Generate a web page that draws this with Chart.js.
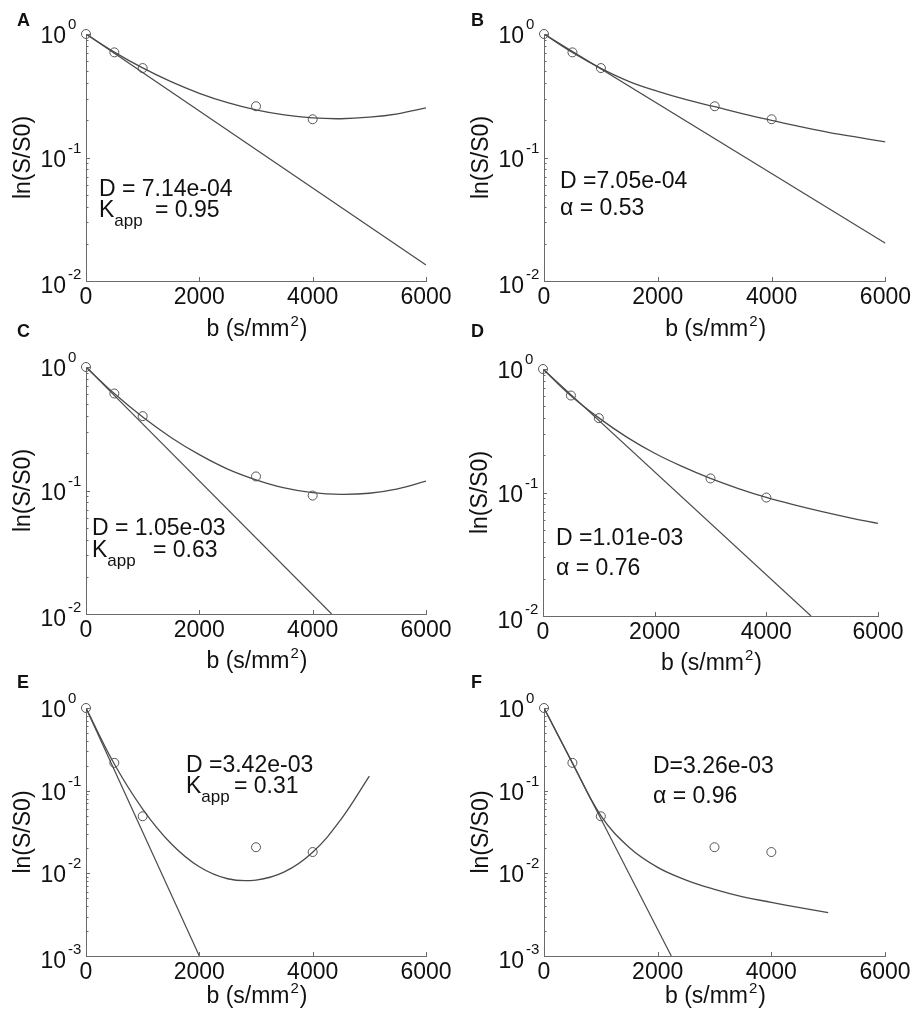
<!DOCTYPE html>
<html>
<head>
<meta charset="utf-8">
<script src="https://cdn.jsdelivr.net/npm/chart.js@4.4.1/dist/chart.umd.min.js"></script>
<style>
  body { margin: 0; background: #fff; }
  #wrap { position: relative; width: 914px; height: 1020px; overflow: hidden; }
  #wrap canvas { position: absolute; }
</style>
</head>
<body>
<div id="wrap"></div>
<script>
// measured b-values (s/mm^2) and normalised signal
const bMeasured = [0, 500, 1000, 3000, 4000];
const signalAB = [1, 0.71, 0.53, 0.26, 0.204];
const signalCD = [1, 0.61, 0.40, 0.13, 0.091];
const signalEF = [1, 0.217, 0.049, 0.0207, 0.0181];

const bFit6000 = [0, 500, 1000, 1500, 2000, 2500, 3000, 3500, 4000, 4500, 5000, 5500, 6000];
const bFit5000 = [0, 500, 1000, 1500, 2000, 2500, 3000, 3500, 4000, 4500, 5000];

// kurtosis / stretched-exponential fits
const kurtosisA = [1, 0.714, 0.531, 0.411, 0.331, 0.278, 0.243, 0.221, 0.209, 0.206, 0.212, 0.226, 0.252];
const stretchedB = [1, 0.71, 0.527, 0.412, 0.343, 0.294, 0.258, 0.226, 0.20, 0.178, 0.160, 0.146, 0.134];
const kurtosisC = [1, 0.609, 0.393, 0.269, 0.195, 0.149, 0.122, 0.105, 0.096, 0.093, 0.095, 0.103, 0.119];
const stretchedD = [1, 0.608, 0.402, 0.281, 0.208, 0.162, 0.130, 0.1076, 0.0912, 0.0794, 0.070, 0.0624, 0.0562];
const kurtosisE = [1, 0.21, 0.06, 0.023, 0.012, 0.0086, 0.0083, 0.0104, 0.018, 0.045, 0.15];
const stretchedF = [1, 0.218, 0.05, 0.0205, 0.0118, 0.0083, 0.0064, 0.0052, 0.00446, 0.00384, 0.00334];

// monoexponential lines (start / end)
const monoA_b = [0, 6000], monoA = [1, 0.0135];
const monoB_b = [0, 6000], monoB = [1, 0.0202];
const monoC_b = [0, 4335], monoC = [1, 0.01];
const monoD_b = [0, 4800], monoD = [1, 0.01];
const monoE_b = [0, 2000], monoE = [1, 0.001];
const monoF_b = [0, 2240], monoF = [1, 0.001];

const xTicks = [0, 2000, 4000, 6000];

const FONT = "'Liberation Sans', Arial, sans-serif";
const lineCol = '#4a4a4a';
const axisCol = '#6a6a6a';
const textCol = '#111';

const panels = [
  { letter: 'A', pos: [0, 0], size: [457, 350], area: [86, 426, 34, 281], letterAt: [17, 26], yMinExp: -2, titleDy: 55,
    b: bMeasured, s: signalAB, fb: bFit6000, f: kurtosisA, mb: monoA_b, m: monoA,
    d: 'D = 7.14e-04', p2: '= 0.95', kind: 'K', at: [13, 162, 183], eqOff: 56 },
  { letter: 'B', pos: [457, 0], size: [457, 350], area: [87, 429, 34, 281], letterAt: [14, 26], yMinExp: -2, titleDy: 55,
    b: bMeasured, s: signalAB, fb: bFit6000, f: stretchedB, mb: monoB_b, m: monoB,
    d: 'D =7.05e-04', p2: '\u03b1 = 0.53', kind: 'a', at: [16, 154, 181] },
  { letter: 'C', pos: [0, 320], size: [457, 360], area: [86, 426, 47, 294], letterAt: [17, 17], yMinExp: -2, titleDy: 54,
    b: bMeasured, s: signalCD, fb: bFit6000, f: kurtosisC, mb: monoC_b, m: monoC,
    d: 'D = 1.05e-03', p2: '= 0.63', kind: 'K', at: [6, 168, 190], eqOff: 61 },
  { letter: 'D', pos: [457, 320], size: [457, 360], area: [86, 421, 49, 296], letterAt: [14, 17], yMinExp: -2, titleDy: 54,
    b: bMeasured, s: signalCD, fb: bFit6000, f: stretchedD, mb: monoD_b, m: monoD,
    d: 'D =1.01e-03', p2: '\u03b1 = 0.76', kind: 'a', at: [13, 176, 206] },
  { letter: 'E', pos: [0, 660], size: [457, 360], area: [86, 426, 48, 296], letterAt: [17, 28], yMinExp: -3, titleDy: 47,
    b: bMeasured, s: signalEF, fb: bFit5000, f: kurtosisE, mb: monoE_b, m: monoE,
    d: 'D =3.42e-03', p2: '= 0.31', kind: 'K', at: [100, 64, 85], eqOff: 48 },
  { letter: 'F', pos: [457, 660], size: [457, 360], area: [87, 428, 48, 296], letterAt: [14, 28], yMinExp: -3, titleDy: 47,
    b: bMeasured, s: signalEF, fb: bFit5000, f: stretchedF, mb: monoF_b, m: monoF,
    d: 'D=3.26e-03', p2: '\u03b1 = 0.96', kind: 'a', at: [109, 65, 95] }
];

function decor(p) {
  return {
    id: 'decor' + p.letter,
    afterDraw(chart) {
      const ctx = chart.ctx;
      const { left, right, top, bottom } = chart.chartArea;
      const xs = chart.scales.x, ys = chart.scales.y;
      ctx.save();
      ctx.strokeStyle = axisCol;
      ctx.lineWidth = 1;
      // inner tick marks on log axis
      for (let e = p.yMinExp; e <= 0; e++) {
        for (let k = 1; k <= 9; k++) {
          if (e === 0 && k > 1) break;
          const y = Math.round(ys.getPixelForValue(k * Math.pow(10, e))) + 0.5;
          ctx.beginPath();
          ctx.moveTo(left, y);
          ctx.lineTo(left + (k === 1 ? 4 : 2.5), y);
          ctx.stroke();
        }
      }
      xTicks.forEach(v => {
        const x = Math.round(xs.getPixelForValue(v)) + 0.5;
        ctx.beginPath();
        ctx.moveTo(x, bottom);
        ctx.lineTo(x, bottom - 4);
        ctx.stroke();
      });

      ctx.fillStyle = textCol;
      ctx.textBaseline = 'alphabetic';
      // y tick labels 10^n
      for (let e = p.yMinExp; e <= 0; e++) {
        const y = ys.getPixelForValue(Math.pow(10, e));
        const dy = e === p.yMinExp ? 12 : 9;
        ctx.font = '23px ' + FONT;
        ctx.textAlign = 'right';
        ctx.fillText('10', left - 20, y + dy);
        ctx.font = '15px ' + FONT;
        ctx.textAlign = 'left';
        ctx.fillText(String(e), left - 18, y + dy - 14);
      }

      // y title
      ctx.save();
      ctx.translate(left - 62, (top + bottom) / 2);
      ctx.rotate(-Math.PI / 2);
      ctx.font = '23px ' + FONT;
      ctx.textAlign = 'center';
      ctx.textBaseline = 'middle';
      ctx.fillText('ln(S/S0)', 0, 0);
      ctx.restore();

      // x title with superscript
      ctx.textAlign = 'left';
      ctx.font = '23px ' + FONT;
      const t1 = 'b (s/mm', t3 = ')';
      const w1 = ctx.measureText(t1).width, w3 = ctx.measureText(t3).width;
      ctx.font = '15px ' + FONT;
      const w2 = ctx.measureText('2').width;
      const xx = (left + right) / 2 - (w1 + w2 + w3) / 2;
      const by = bottom + p.titleDy;
      ctx.font = '23px ' + FONT;
      ctx.fillText(t1, xx, by);
      ctx.font = '15px ' + FONT;
      ctx.fillText('2', xx + w1 + 1, by - 10);
      ctx.font = '23px ' + FONT;
      ctx.fillText(t3, xx + w1 + w2 + 2, by);

      // fit parameters
      const ax = left + p.at[0];
      ctx.fillText(p.d, ax, top + p.at[1]);
      if (p.kind === 'K') {
        const y2 = top + p.at[2];
        ctx.fillText('K', ax, y2);
        const wk = ctx.measureText('K').width;
        ctx.font = '17px ' + FONT;
        ctx.fillText('app', ax + wk, y2 + 9);
        ctx.font = '23px ' + FONT;
        ctx.fillText(p.p2, ax + p.eqOff, y2);
      } else {
        ctx.fillText(p.p2, ax, top + p.at[2]);
      }

      // panel letter
      ctx.font = 'bold 18px ' + FONT;
      ctx.fillText(p.letter, p.letterAt[0], p.letterAt[1]);
      ctx.restore();
    }
  };
}

const wrap = document.getElementById('wrap');
panels.forEach(p => {
  const [W, H] = p.size;
  const cv = document.createElement('canvas');
  cv.width = W;
  cv.height = H;
  cv.style.left = p.pos[0] + 'px';
  cv.style.top = p.pos[1] + 'px';
  cv.style.width = W + 'px';
  cv.style.height = H + 'px';
  wrap.appendChild(cv);

  const pts = (xs, ys) => xs.map((x, i) => ({ x: x, y: ys[i] }));

  new Chart(cv, {
    type: 'line',
    data: {
      datasets: [
        { data: pts(p.mb, p.m), borderColor: lineCol, borderWidth: 1.2, pointRadius: 0, fill: false },
        { data: pts(p.fb, p.f), borderColor: lineCol, borderWidth: 1.3, pointRadius: 0, fill: false,
          tension: 0.4 },
        { data: pts(p.b, p.s), showLine: false, pointRadius: 4.5, pointBorderWidth: 1,
          pointBorderColor: '#555', pointBackgroundColor: 'rgba(0,0,0,0)', clip: false }
      ]
    },
    options: {
      responsive: false,
      animation: false,
      events: [],
      devicePixelRatio: 1,
      layout: { padding: { top: p.area[2], right: W - p.area[1], left: 0, bottom: 0 } },
      plugins: { legend: { display: false }, tooltip: { enabled: false } },
      scales: {
        x: {
          type: 'linear', min: 0, max: 6000,
          afterBuildTicks: s => { s.ticks = xTicks.map(v => ({ value: v })); },
          ticks: { font: { family: FONT, size: 23 }, color: textCol, padding: 3,
                   maxRotation: 0, autoSkip: false, callback: v => String(v) },
          grid: { display: false, drawTicks: false },
          border: { color: axisCol, width: 1 },
          afterFit: s => { s.height = H - p.area[3]; }
        },
        y: {
          type: 'logarithmic', min: Math.pow(10, p.yMinExp), max: 1,
          ticks: { display: false },
          grid: { display: false, drawTicks: false },
          border: { color: axisCol, width: 1 },
          afterFit: s => { s.width = p.area[0]; }
        }
      }
    },
    plugins: [decor(p)]
  });
});
</script>
</body>
</html>
